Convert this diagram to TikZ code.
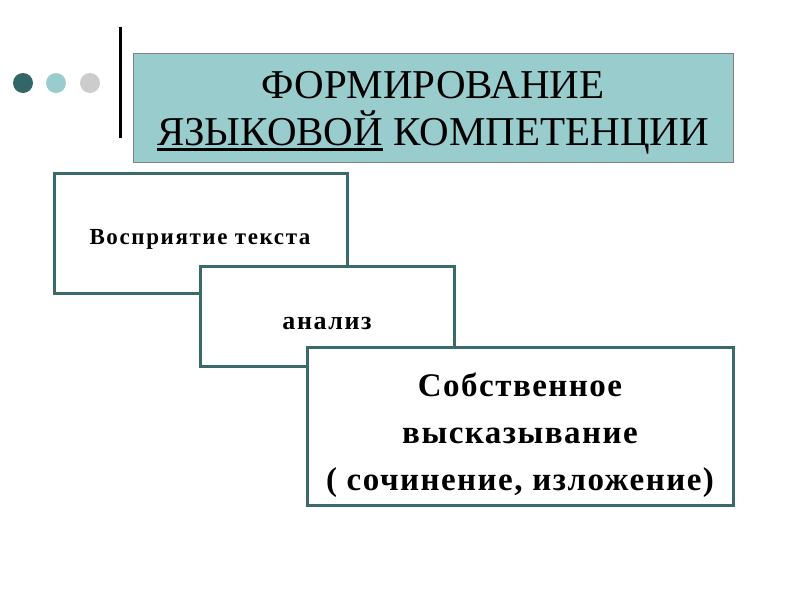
\documentclass[tikz,border=0pt]{standalone}
\usepackage{fontspec}
\setmainfont{Liberation Serif}
\definecolor{darkteal}{HTML}{336666}
\definecolor{lightteal}{HTML}{99CCCC}
\definecolor{lightgray2}{HTML}{CCCCCC}
\definecolor{boxedge}{HTML}{3A6B6A}
\newcommand\thickul[1]{\setbox0\hbox{#1}\rlap{\rule[-5pt]{\wd0}{2.5pt}}\box0\relax}
\begin{document}
\begin{tikzpicture}[x=1pt,y=-1pt,
  stagebox/.style={draw=boxedge, line width=3pt, fill=white},
  dot/.style={circle, minimum size=20pt, inner sep=0pt}]
\useasboundingbox[fill=white] (0,0) rectangle (800,600);
% dots
\node[dot, fill=darkteal] (d1) at (23,83) {};
\node[dot, fill=lightteal] (d2) at (56,83) {};
\node[dot, fill=lightgray2] (d3) at (90,83) {};
% vertical bar
\draw[line width=3pt] (120,27) -- (120,138);
% title box
\draw[draw=gray, line width=0.8pt, fill=lightteal] (133,53) rectangle (733,162);
\node[align=center, font=\fontsize{41}{47}\selectfont] (title) at (433,113)
  {ФОРМИРОВАНИЕ\\\thickul{ЯЗЫКОВОЙ} КОМПЕТЕНЦИИ};
% box 1
\draw[stagebox] (54,173) rectangle (347,293);
\node[font=\bfseries\fontsize{23}{27}\selectfont\addfontfeatures{LetterSpace=7}] (t1) at (200,239) {Восприятие текста};
% box 2
\draw[stagebox] (200,266) rectangle (454,366);
\node[font=\bfseries\fontsize{26}{30}\selectfont\addfontfeatures{LetterSpace=6}] (t2) at (327,323) {анализ};
% box 3
\draw[stagebox] (307,347) rectangle (733,505);
\node[align=center, font=\bfseries\fontsize{33}{47}\selectfont\addfontfeatures{LetterSpace=4.5}] (t3) at (520,435)
  {Собственное\\высказывание\\( сочинение, изложение)};
\end{tikzpicture}
\end{document}
